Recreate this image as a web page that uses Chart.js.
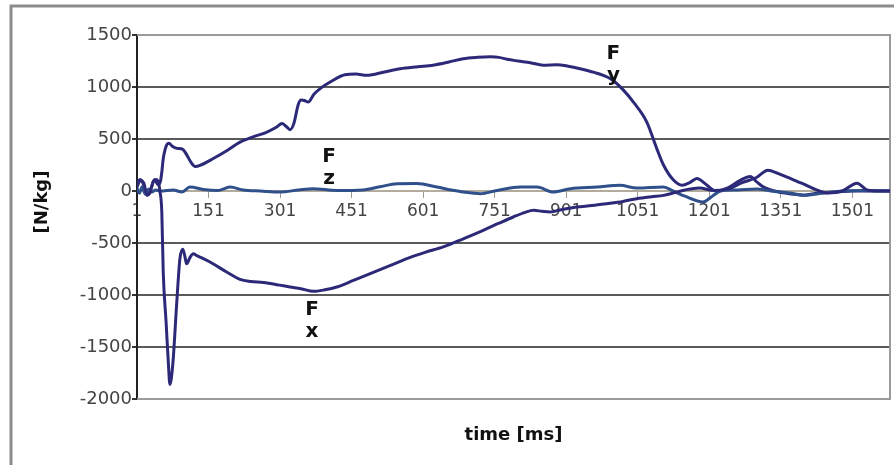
<!DOCTYPE html>
<html>
<head>
<meta charset="utf-8">
<script src="https://cdn.jsdelivr.net/npm/chart.js@4.4.0/dist/chart.umd.min.js"></script>
<style>
  html, body { margin: 0; padding: 0; background: #fff; }
  #wrap { position: relative; width: 894px; height: 465px; }
</style>
</head>
<body>
<div id="wrap"><canvas id="force-chart"></canvas></div>
<script>
/* ============================================================
   FORCE CURVES — Fx, Fy, Fz  [N/kg] vs time [ms]
   ============================================================ */

// time [ms], value [N/kg]
var fyPoints = [[1,90],[8,110],[15,60],[22,-40],[30,20],[38,110],[45,60],[50,90],[53,180],[56,310],[60,400],[64,450],[68,460],[75,430],[85,410],[97,400],[105,350],[115,270],[123,235],[135,250],[160,310],[190,390],[217,470],[244,520],[270,560],[294,615],[305,650],[314,620],[322,590],[330,650],[339,830],[345,875],[352,870],[360,855],[372,930],[385,985],[406,1048],[437,1118],[460,1125],[483,1112],[520,1145],[553,1176],[590,1195],[622,1210],[655,1240],[685,1272],[715,1285],[742,1290],[760,1285],[777,1266],[800,1250],[826,1234],[853,1210],[882,1214],[905,1200],[930,1176],[960,1140],[987,1096],[1000,1060],[1021,970],[1042,855],[1070,663],[1091,407],[1105,250],[1126,105],[1144,55],[1160,80],[1175,120],[1195,60],[1215,0],[1240,30],[1265,100],[1287,140],[1300,90],[1312,45],[1330,10],[1360,-20],[1400,-40],[1430,-20],[1470,-10],[1500,0],[1580,0]];

var fzPoints = [[1,30],[6,-20],[12,40],[18,-30],[25,20],[32,-10],[40,10],[50,0],[77,10],[95,-10],[112,38],[140,15],[170,5],[196,38],[224,10],[260,0],[301,-10],[340,10],[370,22],[420,5],[475,10],[510,40],[546,70],[588,72],[630,38],[660,10],[685,-10],[721,-26],[756,5],[805,38],[840,38],[874,-10],[910,22],[966,38],[1014,55],[1049,28],[1105,38],[1125,0],[1150,-50],[1188,-105],[1210,-40],[1225,0],[1260,10],[1300,20],[1330,0],[1370,-20],[1400,-40],[1440,-20],[1480,0],[1520,5],[1580,0]];

var fxPoints = [[1,40],[8,100],[15,80],[22,-40],[28,-20],[35,90],[42,110],[47,60],[49,0],[53,-200],[56,-780],[62,-1260],[67,-1675],[70,-1860],[73,-1800],[77,-1612],[84,-1100],[91,-650],[97,-560],[101,-620],[105,-700],[112,-640],[119,-603],[126,-620],[133,-635],[154,-683],[189,-779],[217,-850],[240,-870],[266,-880],[300,-905],[322,-923],[345,-940],[371,-965],[395,-950],[420,-923],[455,-860],[490,-795],[530,-720],[567,-650],[605,-590],[643,-538],[685,-460],[727,-378],[760,-310],[790,-250],[815,-205],[833,-186],[850,-195],[867,-202],[895,-175],[923,-154],[955,-140],[986,-122],[1020,-100],[1049,-74],[1080,-55],[1105,-42],[1125,-20],[1150,10],[1180,30],[1210,5],[1240,20],[1270,80],[1300,130],[1324,200],[1345,170],[1363,135],[1397,70],[1426,10],[1450,-20],[1480,0],[1511,75],[1532,10],[1560,0],[1580,0]];

var xTicks = [1, 151, 301, 451, 601, 751, 901, 1051, 1201, 1351, 1501];
var yTicks = [1500, 1000, 500, 0, -500, -1000, -1500, -2000];

// series name labels, anchored in data units (time, value)
var seriesLabels = [
  { main: 'F', sub: 'y', t: 1000, v: 1317 },
  { main: 'F', sub: 'z', t: 404,  v: 327 },
  { main: 'F', sub: 'x', t: 368,  v: -1144 }
];

function toXY(pts) {
  return pts.map(function(p) { return { x: p[0], y: p[1] }; });
}

// frame, plot-area border, axis titles and series labels
var decorPlugin = {
  id: 'decor',
  beforeDraw: function(chart) {
    var ctx = chart.ctx;
    ctx.save();
    ctx.fillStyle = '#fff';
    ctx.fillRect(0, 0, chart.width, chart.height);
    ctx.strokeStyle = '#8c8c8c';
    ctx.lineWidth = 3;
    ctx.beginPath();
    ctx.moveTo(11, chart.height + 2);
    ctx.lineTo(11, 6);
    ctx.lineTo(chart.width + 2, 6);
    ctx.stroke();
    ctx.restore();
  },
  beforeDatasetsDraw: function(chart) {
    var a = chart.chartArea, ctx = chart.ctx;
    ctx.save();
    ctx.strokeStyle = '#9a9a9a';
    ctx.lineWidth = 2;
    ctx.beginPath();
    ctx.moveTo(a.left, a.top);
    ctx.lineTo(a.right, a.top);
    ctx.lineTo(a.right, a.bottom);
    ctx.lineTo(a.left, a.bottom);
    ctx.stroke();
    ctx.restore();
  },
  afterDraw: function(chart) {
    var a = chart.chartArea, ctx = chart.ctx;
    var xs = chart.scales.x, ys = chart.scales.y;
    ctx.save();
    ctx.fillStyle = '#111';
    ctx.font = 'bold 18px "DejaVu Sans"';
    ctx.textAlign = 'center';
    ctx.textBaseline = 'middle';
    ctx.fillText('time [ms]', (a.left + a.right) / 2, 435);

    ctx.save();
    ctx.translate(42, 202);
    ctx.rotate(-Math.PI / 2);
    ctx.fillText('[N/kg]', 0, 0);
    ctx.restore();

    ctx.font = 'bold 20px "DejaVu Sans"';
    seriesLabels.forEach(function(l) {
      var px = xs.getPixelForValue(l.t), py = ys.getPixelForValue(l.v);
      ctx.fillText(l.main, px, py);
      ctx.fillText(l.sub, px, py + 22);
    });
    ctx.restore();
  }
};

var lineStyle = { borderWidth: 3, pointRadius: 0, fill: false, cubicInterpolationMode: 'monotone' };

new Chart(document.getElementById('force-chart').getContext('2d'), {
  type: 'line',
  data: {
    datasets: [
      Object.assign({ label: 'Fx', data: toXY(fxPoints), borderColor: '#2c2a78' }, lineStyle),
      Object.assign({ label: 'Fz', data: toXY(fzPoints), borderColor: '#30508c' }, lineStyle),
      Object.assign({ label: 'Fy', data: toXY(fyPoints), borderColor: '#2c2a78' }, lineStyle)
    ]
  },
  options: {
    responsive: true, maintainAspectRatio: false, animation: false,
    layout: { padding: { top: 35, right: 4, bottom: 66, left: 0 } },
    plugins: { legend: { display: false }, tooltip: { enabled: false } },
    scales: {
      x: {
        type: 'linear', position: { y: 0 }, min: 1, max: 1580,
        afterBuildTicks: function(s) { s.ticks = xTicks.map(function(v) { return { value: v }; }); },
        grid: { drawOnChartArea: false, drawTicks: true, tickLength: 6, tickColor: '#a09a90' },
        border: { display: true, color: '#b3ab9c', width: 2 },
        ticks: {
          autoSkip: false, maxRotation: 0, padding: 4, color: '#444',
          font: { family: 'DejaVu Sans', size: 17 },
          callback: function(v) { return String(v); }
        }
      },
      y: {
        type: 'linear', position: 'left', min: -2000, max: 1500,
        afterBuildTicks: function(s) { s.ticks = yTicks.map(function(v) { return { value: v }; }); },
        afterFit: function(s) { s.width = 137; },
        grid: {
          color: function(c) {
            var v = c.tick.value;
            if (v === 0) return 'rgba(0,0,0,0)';
            return (v === 1500 || v === -2000) ? '#9a9a9a' : '#5a5a5a';
          },
          lineWidth: 2, tickLength: 5, tickColor: '#333'
        },
        border: { display: true, color: '#222', width: 2 },
        ticks: {
          padding: 0, color: '#444',
          font: { family: 'DejaVu Sans', size: 18 },
          callback: function(v) { return String(v); }
        }
      }
    }
  },
  plugins: [decorPlugin]
});
</script>
</body>
</html>
